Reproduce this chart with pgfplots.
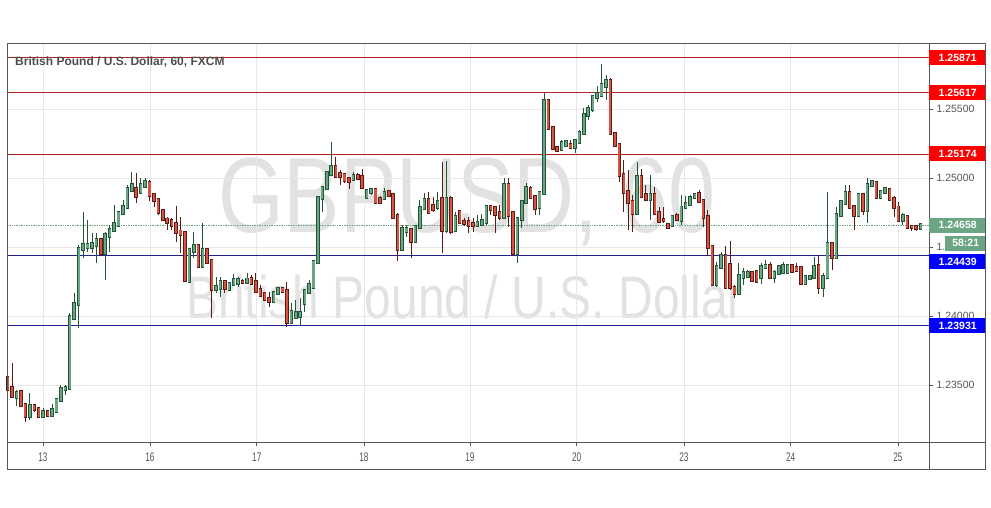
\documentclass[border=0pt]{standalone}
\usepackage{graphicx}
\usepackage{pgfplots}
\pgfplotsset{compat=1.18}
\usepackage{pgfplotstable}
\usepackage{fontspec}
\setmainfont{Liberation Sans}
\newfontfamily\narrowfont[FakeStretch=0.66]{Liberation Sans}
\definecolor{upfill}{HTML}{6BA583}
\definecolor{upline}{HTML}{225437}
\definecolor{downfill}{HTML}{D75442}
\definecolor{downline}{HTML}{5B1A13}
\definecolor{gridc}{HTML}{E8E8E8}
\definecolor{framec}{HTML}{555555}
\definecolor{txt}{HTML}{555555}
\definecolor{resline}{HTML}{B42226}
\definecolor{supline}{HTML}{22228C}
\definecolor{wm}{HTML}{E2E2E2}
\definecolor{lblred}{HTML}{FF0000}
\definecolor{lblblue}{HTML}{0000FF}
\pgfplotstableread{
i o h l c
0 1.23550 1.23593 1.23426 1.23470
1 1.23477 1.23658 1.23405 1.23419
2 1.23412 1.23463 1.23347 1.23441
3 1.23448 1.23455 1.23347 1.23354
4 1.23354 1.23368 1.23231 1.23274
5 1.23274 1.23441 1.23245 1.23347
6 1.23347 1.23361 1.23303 1.23325
7 1.23325 1.23332 1.23260 1.23274
8 1.23274 1.23332 1.23260 1.23303
9 1.23303 1.23310 1.23267 1.23281
10 1.23281 1.23361 1.23274 1.23318
11 1.23310 1.23405 1.23303 1.23390
12 1.23390 1.23499 1.23376 1.23470
13 1.23470 1.23499 1.23426 1.23477
14 1.23477 1.24021 1.23470 1.23992
15 1.23985 1.24166 1.23985 1.24086
16 1.24086 1.24514 1.23912 1.24485
17 1.24485 1.24753 1.24420 1.24514
18 1.24499 1.24695 1.24463 1.24514
19 1.24499 1.24601 1.24456 1.24521
20 1.24514 1.24601 1.24383 1.24550
21 1.24550 1.24557 1.24441 1.24456
22 1.24456 1.24608 1.24260 1.24586
23 1.24579 1.24659 1.24463 1.24623
24 1.24623 1.24804 1.24608 1.24666
25 1.24659 1.24753 1.24644 1.24746
26 1.24746 1.24840 1.24731 1.24789
27 1.24789 1.24949 1.24782 1.24920
28 1.24913 1.25043 1.24898 1.24949
29 1.24920 1.25036 1.24818 1.24869
30 1.24898 1.25000 1.24891 1.24949
31 1.24942 1.25000 1.24934 1.24971
32 1.24963 1.24985 1.24833 1.24876
33 1.24876 1.24891 1.24789 1.24840
34 1.24840 1.24855 1.24731 1.24753
35 1.24760 1.24768 1.24695 1.24702
36 1.24702 1.24717 1.24623 1.24681
37 1.24688 1.24710 1.24623 1.24659
38 1.24666 1.24797 1.24536 1.24608
39 1.24615 1.24717 1.24456 1.24594
40 1.24601 1.24615 1.24253 1.24260
41 1.24253 1.24478 1.24246 1.24478
42 1.24470 1.24608 1.24420 1.24507
43 1.24507 1.24514 1.24354 1.24362
44 1.24362 1.24673 1.24354 1.24478
45 1.24478 1.24492 1.24383 1.24391
46 1.24398 1.24405 1.23985 1.24195
47 1.24195 1.24282 1.24166 1.24209
48 1.24202 1.24282 1.24137 1.24246
49 1.24246 1.24253 1.24166 1.24202
50 1.24195 1.24246 1.24180 1.24231
51 1.24231 1.24304 1.24224 1.24260
52 1.24238 1.24282 1.24209 1.24260
53 1.24246 1.24267 1.24238 1.24244
54 1.24246 1.24311 1.24238 1.24267
55 1.24267 1.24296 1.24224 1.24238
56 1.24246 1.24311 1.24173 1.24180
57 1.24188 1.24224 1.24137 1.24151
58 1.24159 1.24166 1.24108 1.24122
59 1.24122 1.24173 1.24064 1.24108
60 1.24108 1.24173 1.24093 1.24166
61 1.24166 1.24209 1.24151 1.24195
62 1.24195 1.24202 1.24166 1.24180
63 1.24180 1.24246 1.23919 1.23956
64 1.23956 1.24093 1.23948 1.24028
65 1.23992 1.24115 1.23985 1.24021
66 1.23999 1.24130 1.23934 1.24021
67 1.24093 1.24195 1.24028 1.24180
68 1.24173 1.24260 1.24170 1.24224
69 1.24209 1.24405 1.24195 1.24391
70 1.24391 1.24869 1.24376 1.24855
71 1.24855 1.24934 1.24753 1.24927
72 1.24927 1.25043 1.24920 1.25036
73 1.25029 1.25261 1.25021 1.25079
74 1.25079 1.25152 1.25007 1.25014
75 1.25029 1.25058 1.24949 1.25014
76 1.25021 1.25036 1.24963 1.24985
77 1.24992 1.25007 1.24920 1.24978
78 1.24992 1.25043 1.24985 1.25014
79 1.25014 1.25036 1.24985 1.25000
80 1.25007 1.25065 1.24920 1.24934
81 1.24862 1.24920 1.24855 1.24905
82 1.24898 1.24927 1.24876 1.24913
83 1.24913 1.24920 1.24818 1.24826
84 1.24847 1.24869 1.24811 1.24826
85 1.24855 1.24927 1.24840 1.24891
86 1.24898 1.24913 1.24869 1.24876
87 1.24876 1.24884 1.24710 1.24717
88 1.24724 1.24746 1.24398 1.24485
89 1.24485 1.24659 1.24470 1.24630
90 1.24615 1.24659 1.24572 1.24630
91 1.24623 1.24637 1.24420 1.24543
92 1.24543 1.24659 1.24528 1.24644
93 1.24644 1.24840 1.24637 1.24782
94 1.24782 1.24891 1.24768 1.24840
95 1.24840 1.24898 1.24746 1.24753
96 1.24797 1.24862 1.24753 1.24775
97 1.24789 1.24898 1.24768 1.24826
98 1.24847 1.25116 1.24456 1.24623
99 1.24623 1.25123 1.24601 1.24847
100 1.24847 1.24869 1.24594 1.24615
101 1.24623 1.24753 1.24615 1.24717
102 1.24753 1.24768 1.24673 1.24681
103 1.24681 1.24710 1.24652 1.24673
104 1.24681 1.24717 1.24601 1.24659
105 1.24666 1.24710 1.24608 1.24659
106 1.24659 1.24731 1.24644 1.24673
107 1.24666 1.24739 1.24652 1.24688
108 1.24681 1.24804 1.24659 1.24789
109 1.24789 1.24804 1.24731 1.24775
110 1.24782 1.24797 1.24601 1.24739
111 1.24746 1.24804 1.24695 1.24717
112 1.24717 1.25000 1.24710 1.24949
113 1.24949 1.25000 1.24644 1.24731
114 1.24746 1.24760 1.24441 1.24456
115 1.24456 1.24717 1.24383 1.24702
116 1.24702 1.24840 1.24637 1.24826
117 1.24826 1.24963 1.24818 1.24927
118 1.24920 1.24942 1.24855 1.24862
119 1.24862 1.24876 1.24731 1.24782
120 1.24789 1.24898 1.24731 1.24891
121 1.24891 1.25616 1.24884 1.25558
122 1.25558 1.25572 1.25355 1.25362
123 1.25362 1.25369 1.25210 1.25217
124 1.25217 1.25232 1.25188 1.25203
125 1.25210 1.25275 1.25203 1.25253
126 1.25239 1.25275 1.25224 1.25261
127 1.25239 1.25275 1.25217 1.25224
128 1.25224 1.25275 1.25181 1.25268
129 1.25261 1.25348 1.25253 1.25326
130 1.25326 1.25507 1.25319 1.25456
131 1.25456 1.25529 1.25420 1.25500
132 1.25500 1.25594 1.25478 1.25587
133 1.25587 1.25667 1.25551 1.25609
134 1.25601 1.25826 1.25594 1.25674
135 1.25667 1.25746 1.25565 1.25703
136 1.25703 1.25725 1.25311 1.25326
137 1.25319 1.25333 1.25232 1.25239
138 1.25239 1.25246 1.24971 1.25021
139 1.25021 1.25130 1.24753 1.24898
140 1.24898 1.25058 1.24623 1.24826
141 1.24826 1.24876 1.24608 1.24746
142 1.24746 1.25116 1.24739 1.25007
143 1.25007 1.25065 1.24862 1.24869
144 1.24876 1.24949 1.24840 1.24847
145 1.24847 1.25021 1.24695 1.24876
146 1.24876 1.24934 1.24739 1.24746
147 1.24746 1.24789 1.24681 1.24688
148 1.24695 1.24789 1.24673 1.24693
149 1.24659 1.24673 1.24637 1.24644
150 1.24659 1.24731 1.24652 1.24717
151 1.24724 1.24746 1.24695 1.24702
152 1.24695 1.24876 1.24659 1.24789
153 1.24789 1.24869 1.24775 1.24811
154 1.24811 1.24876 1.24797 1.24855
155 1.24862 1.24891 1.24855 1.24876
156 1.24884 1.24913 1.24826 1.24833
157 1.24833 1.24847 1.24644 1.24717
158 1.24717 1.24768 1.24434 1.24499
159 1.24499 1.24514 1.24224 1.24231
160 1.24231 1.24391 1.24209 1.24354
161 1.24354 1.24463 1.24347 1.24434
162 1.24434 1.24507 1.24202 1.24209
163 1.24369 1.24543 1.24188 1.24209
164 1.24202 1.24224 1.24130 1.24166
165 1.24166 1.24383 1.24151 1.24289
166 1.24282 1.24347 1.24224 1.24311
167 1.24289 1.24333 1.24275 1.24311
168 1.24311 1.24318 1.24246 1.24260
169 1.24318 1.24333 1.24238 1.24253
170 1.24282 1.24383 1.24231 1.24354
171 1.24354 1.24405 1.24347 1.24362
172 1.24362 1.24391 1.24275 1.24282
173 1.24282 1.24333 1.24238 1.24311
174 1.24311 1.24369 1.24304 1.24354
175 1.24318 1.24391 1.24311 1.24362
176 1.24318 1.24369 1.24311 1.24362
177 1.24362 1.24369 1.24318 1.24325
178 1.24347 1.24383 1.24325 1.24333
179 1.24347 1.24354 1.24231 1.24238
180 1.24238 1.24296 1.24231 1.24282
181 1.24275 1.24296 1.24267 1.24282
182 1.24282 1.24427 1.24267 1.24354
183 1.24362 1.24434 1.24159 1.24209
184 1.24209 1.24311 1.24137 1.24282
185 1.24282 1.24898 1.24275 1.24521
186 1.24521 1.24528 1.24333 1.24427
187 1.24427 1.24789 1.24420 1.24731
188 1.24731 1.24840 1.24717 1.24826
189 1.24818 1.24949 1.24804 1.24891
190 1.24891 1.24949 1.24782 1.24789
191 1.24789 1.24797 1.24623 1.24731
192 1.24731 1.24891 1.24717 1.24876
193 1.24876 1.24891 1.24731 1.24768
194 1.24768 1.25000 1.24673 1.24949
195 1.24949 1.24985 1.24934 1.24971
196 1.24963 1.24978 1.24855 1.24862
197 1.24862 1.24913 1.24855 1.24898
198 1.24898 1.24927 1.24891 1.24920
199 1.24913 1.24927 1.24840 1.24847
200 1.24847 1.24869 1.24717 1.24789
201 1.24789 1.24826 1.24681 1.24695
202 1.24695 1.24746 1.24659 1.24724
203 1.24717 1.24724 1.24637 1.24644
204 1.24644 1.24659 1.24615 1.24642
205 1.24644 1.24652 1.24615 1.24637
206 1.24637 1.24659 1.24630 1.24658
}\candles
\pgfplotsset{
  wick/.style={draw=none, mark=none, forget plot,
    error bars/.cd, y dir=both, y explicit, error mark=none,
    error bar style={draw=#1, line width=0.8pt, line cap=butt}},
  body/.style 2 args={draw=none, mark=none, forget plot,
    error bars/.cd, y dir=both, y explicit, error mark=none,
    error bar style={draw=#1, line width=#2, line cap=rect}},
}
\begin{document}
\begin{tikzpicture}[x=1pt,y=1pt]
\path[use as bounding box] (0,0) rectangle (991,507);
% watermark
\node[text=wm, anchor=base, inner sep=0pt, font=\fontsize{107}{107}\selectfont] at (467,274) {\scalebox{0.79}[1]{GBPUSD, 60}};
\node[text=wm, anchor=base, inner sep=0pt, font=\fontsize{60}{60}\selectfont] at (465,189) {\scalebox{0.80}[1]{British Pound / U.S. Dollar}};
\begin{axis}[
  at={(7pt,65pt)}, anchor=south west,
  scale only axis, width=922pt, height=399pt,
  xmin=-0.16, xmax=207.9, ymin=1.23086, ymax=1.25978,
  clip=false,
  axis line style={framec, line width=0.8pt},
  tick align=outside, major tick length=4pt,
  tick style={framec, line width=0.6pt},
  xtick={7.96,32.1,56.2,80.4,104.3,128.4,152.6,176.7,200.9},
  xticklabels={13,16,17,18,19,20,23,24,25},
  xtick pos=bottom, ytick pos=right, yticklabel pos=right,
  ytick={1.235,1.24,1.245,1.25,1.255},
  scaled y ticks=false,
  /pgf/number format/fixed, /pgf/number format/fixed zerofill,
  /pgf/number format/precision=5, /pgf/number format/assume math mode=true,
  grid=major, major grid style={gridc, line width=0.6pt},
  yticklabel style={font=\fontsize{10.5}{12}\selectfont, text=txt, anchor=west},
  xticklabel style={font=\narrowfont\fontsize{12.5}{14}\selectfont, text=txt, yshift=-3pt},
]
% S/R lines
\addplot[resline, line width=0.8pt, forget plot] coordinates {(-0.16,1.25871) (207.9,1.25871)};
\addplot[resline, line width=0.8pt, forget plot] coordinates {(-0.16,1.25617) (207.9,1.25617)};
\addplot[resline, line width=0.8pt, forget plot] coordinates {(-0.16,1.25174) (207.9,1.25174)};
\addplot[supline, line width=0.8pt, forget plot] coordinates {(-0.16,1.24439) (207.9,1.24439)};
\addplot[supline, line width=0.8pt, forget plot] coordinates {(-0.16,1.23931) (207.9,1.23931)};
\addplot[upfill, densely dotted, line width=0.7pt, forget plot] coordinates {(-0.16,1.24658) (207.9,1.24658)};
% wicks
\addplot[wick=upline] table[x=i, y expr={(\thisrow{h}+\thisrow{l})/2}, y error expr={(\thisrow{h}-\thisrow{l})/2},
  restrict expr to domain={\thisrow{c}-\thisrow{o}}{0:1}] {\candles};
\addplot[wick=downline] table[x=i, y expr={(\thisrow{h}+\thisrow{l})/2}, y error expr={(\thisrow{h}-\thisrow{l})/2},
  restrict expr to domain={\thisrow{o}-\thisrow{c}}{0.000001:1}] {\candles};
% bodies
\addplot[body={upline}{3.5pt}] table[x=i, y expr={(\thisrow{o}+\thisrow{c})/2}, y error expr={abs(\thisrow{c}-\thisrow{o})/2},
  restrict expr to domain={\thisrow{c}-\thisrow{o}}{0:1}] {\candles};
\addplot[body={upfill}{2.1pt}] table[x=i, y expr={(\thisrow{o}+\thisrow{c})/2}, y error expr={abs(\thisrow{c}-\thisrow{o})/2},
  restrict expr to domain={\thisrow{c}-\thisrow{o}}{0:1}] {\candles};
\addplot[body={downline}{3.5pt}] table[x=i, y expr={(\thisrow{o}+\thisrow{c})/2}, y error expr={abs(\thisrow{c}-\thisrow{o})/2},
  restrict expr to domain={\thisrow{o}-\thisrow{c}}{0.000001:1}] {\candles};
\addplot[body={downfill}{2.1pt}] table[x=i, y expr={(\thisrow{o}+\thisrow{c})/2}, y error expr={abs(\thisrow{c}-\thisrow{o})/2},
  restrict expr to domain={\thisrow{o}-\thisrow{c}}{0.000001:1}] {\candles};
% price labels
\tikzset{plbl/.style={fill=#1, text=white, anchor=west, inner sep=0pt, minimum width=57pt, minimum height=15pt, font=\bfseries\fontsize{10.5}{12}\selectfont}}
\node[plbl=lblred] at (axis cs:207.9,1.25871) {1.25871};
\node[plbl=lblred] at (axis cs:207.9,1.25617) {1.25617};
\node[plbl=lblred] at (axis cs:207.9,1.25174) {1.25174};
\node[plbl=upfill] at (axis cs:207.9,1.24658) {1.24658};
\node[plbl=upfill, minimum width=41pt, xshift=16pt] at (axis cs:207.9,1.24528) {58:21};
\node[plbl=lblblue, yshift=-6.5pt] at (axis cs:207.9,1.24439) {1.24439};
\node[plbl=lblblue] at (axis cs:207.9,1.23931) {1.23931};
\end{axis}
% frame
\draw[framec, line width=0.8pt] (7,38) rectangle (985,464);
\draw[framec, line width=0.8pt] (7,65) -- (985,65);
\draw[framec, line width=0.8pt] (929,38) -- (929,65);
% title
\node[anchor=base west, inner sep=0pt, text={rgb,255:red,77;green,77;blue,77}, font=\bfseries\fontsize{12}{14}\selectfont] at (15,441) {British Pound / U.S. Dollar, 60, FXCM};
\end{tikzpicture}
\end{document}
